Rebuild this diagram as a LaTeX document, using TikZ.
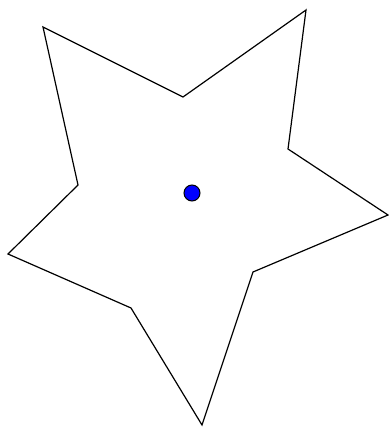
\documentclass[tikz,border=0pt]{standalone}

\begin{document}
\begin{tikzpicture}[x=1pt, y=-1pt, thick]
  % Marco del dibujo
  \useasboundingbox (0,0) rectangle (388,427);

  % Estrella de cinco puntas
  \draw[line width=1.2pt, line join=miter]
    (43,27) -- (183,97) -- (306,10) -- (288,149) -- (388,215)
    -- (253,272) -- (202,425) -- (131,308) -- (8,254) -- (78,185) -- cycle;

  % Punto central
  \node[circle, draw=black, fill=blue, line width=1pt, minimum size=16pt, inner sep=0pt] (centro) at (192,193) {};
\end{tikzpicture}
\end{document}
